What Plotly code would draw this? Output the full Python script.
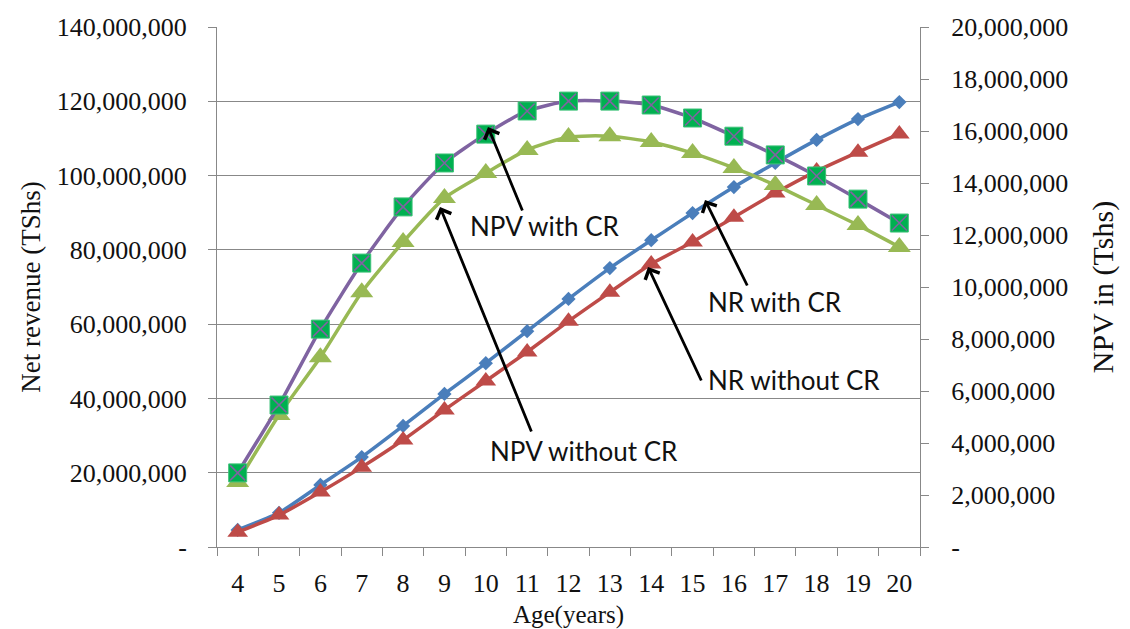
import plotly.graph_objects as go

ages = [str(a) for a in range(4, 21)]

nr_with_cr = [4.6e6, 9.2e6, 16.7e6, 24.2e6, 32.6e6, 41.2e6, 49.5e6, 58.1e6, 66.8e6,
              75.1e6, 82.6e6, 89.9e6, 96.9e6, 103.4e6, 109.6e6, 115.2e6, 119.8e6]
nr_without_cr = [4.0e6, 8.6e6, 14.8e6, 21.5e6, 28.8e6, 36.9e6, 44.7e6, 52.5e6, 60.8e6,
                 68.6e6, 76.2e6, 82.1e6, 88.8e6, 95.3e6, 101.2e6, 106.3e6, 111.2e6]
npv_with_cr = [2.85e6, 5.46e6, 8.38e6, 10.92e6, 13.08e6, 14.77e6, 15.88e6, 16.77e6, 17.15e6,
               17.15e6, 17.0e6, 16.5e6, 15.8e6, 15.08e6, 14.27e6, 13.38e6, 12.46e6]
npv_without_cr = [2.5e6, 5.08e6, 7.3e6, 9.8e6, 11.73e6, 13.42e6, 14.38e6, 15.27e6, 15.77e6,
                  15.8e6, 15.58e6, 15.15e6, 14.58e6, 13.92e6, 13.15e6, 12.38e6, 11.54e6]

left_ticks = [0, 20e6, 40e6, 60e6, 80e6, 100e6, 120e6, 140e6]
left_labels = ["-", "20,000,000", "40,000,000", "60,000,000", "80,000,000",
               "100,000,000", "120,000,000", "140,000,000"]
right_ticks = [i * 2e6 for i in range(11)]
right_labels = ["-"] + ["{:,}".format(int(v)) for v in right_ticks[1:]]

BLUE = "#4A7EBB"
RED = "#BE4B48"
LGREEN = "#98B954"
PURPLE = "#7F63A1"
SQGREEN = "#00B050"

fig = go.Figure()

fig.add_trace(go.Scatter(x=ages, y=nr_with_cr, mode="lines+markers", name="NR with CR",
                         line=dict(color=BLUE, width=3.5, shape="spline", smoothing=0.5),
                         marker=dict(symbol="diamond", size=11, color=BLUE)))
fig.add_trace(go.Scatter(x=ages, y=nr_without_cr, mode="lines+markers", name="NR without CR",
                         line=dict(color=RED, width=3.5, shape="spline", smoothing=0.5),
                         marker=dict(symbol="triangle-up", size=18, color=RED)))
fig.add_trace(go.Scatter(x=ages, y=npv_without_cr, mode="lines+markers", name="NPV without CR",
                         yaxis="y2",
                         line=dict(color=LGREEN, width=3.5, shape="spline", smoothing=0.6),
                         marker=dict(symbol="triangle-up", size=20, color=LGREEN)))
fig.add_trace(go.Scatter(x=ages, y=npv_with_cr, mode="lines+markers", name="NPV with CR",
                         yaxis="y2",
                         line=dict(color=PURPLE, width=3.5, shape="spline", smoothing=0.6),
                         marker=dict(symbol="square", size=18, color=SQGREEN,
                                     line=dict(color="#3FC27A", width=1))))
fig.add_trace(go.Scatter(x=ages, y=npv_with_cr, mode="markers", yaxis="y2", showlegend=False,
                         hoverinfo="skip",
                         marker=dict(symbol="x-thin", size=15, color=PURPLE,
                                     line=dict(color=PURPLE, width=1.6))))

tick_font = dict(family="Liberation Serif, Times New Roman, serif", size=26, color="#111")
ann_font = dict(family="Lato, Open Sans, sans-serif", size=26, color="#111")

fig.update_layout(
    width=1130, height=629,
    margin=dict(l=217, r=210, t=27, b=82, autoexpand=False),
    paper_bgcolor="white", plot_bgcolor="white",
    showlegend=False,
    xaxis=dict(type="category", range=[-0.5, 16.5], tickson="boundaries", ticks="outside",
               ticklen=8, tickcolor="#888", showline=True, linecolor="#888", linewidth=1,
               showgrid=False, tickfont=tick_font, ticklabelstandoff=13, automargin=False,
               title=dict(text="Age(years)", font=dict(family="Liberation Serif, serif", size=25, color="#111"),
                          standoff=10)),
    yaxis=dict(range=[0, 140e6], tickvals=left_ticks, ticktext=left_labels,
               ticks="outside", ticklen=8, tickcolor="#888", showline=True,
               linecolor="#888", linewidth=1, showgrid=True, gridcolor="#888",
               gridwidth=1, zeroline=False, tickfont=tick_font, ticklabelstandoff=16,
               automargin=False,
               title=dict(text="Net revenue (TShs)",
                          font=dict(family="Liberation Serif, serif", size=27, color="#111"),
                          standoff=8)),
    yaxis2=dict(range=[0, 20e6], tickvals=right_ticks, ticktext=right_labels,
                overlaying="y", side="right", ticks="outside", ticklen=8, tickcolor="#888",
                showline=True, linecolor="#888", linewidth=1, showgrid=False, zeroline=False,
                tickfont=tick_font, ticklabelstandoff=17, automargin=False,
                title=dict(text="NPV in (Tshs)",
                           font=dict(family="Liberation Serif, serif", size=30, color="#111"),
                           standoff=24)),
)

def px2paper(px, py):
    return (px - 217) / 703.0, (547 - py) / 520.0

arrows = [((488, 127), (523, 212)),
          ((440, 207), (532, 433)),
          ((705, 200), (748, 287)),
          ((648, 267), (702, 382))]
for (hx, hy), (tx, ty) in arrows:
    xp, yp = px2paper(hx, hy)
    fig.add_annotation(x=xp, y=yp, xref="paper", yref="paper", text="",
                       showarrow=True, arrowhead=4, arrowsize=1.1, arrowwidth=2.8,
                       arrowcolor="#000", ax=tx - hx, ay=ty - hy)

labels = [("NPV with CR", 468, 226), ("NPV without CR", 488, 451),
          ("NR with CR", 706, 302), ("NR without CR", 706, 380)]
for txt, lx, ly in labels:
    xp, yp = px2paper(lx, ly)
    fig.add_annotation(x=xp, y=yp, xref="paper", yref="paper", text=txt, showarrow=False,
                       xanchor="left", yanchor="middle", font=ann_font)

fig.write_html("out.html")
